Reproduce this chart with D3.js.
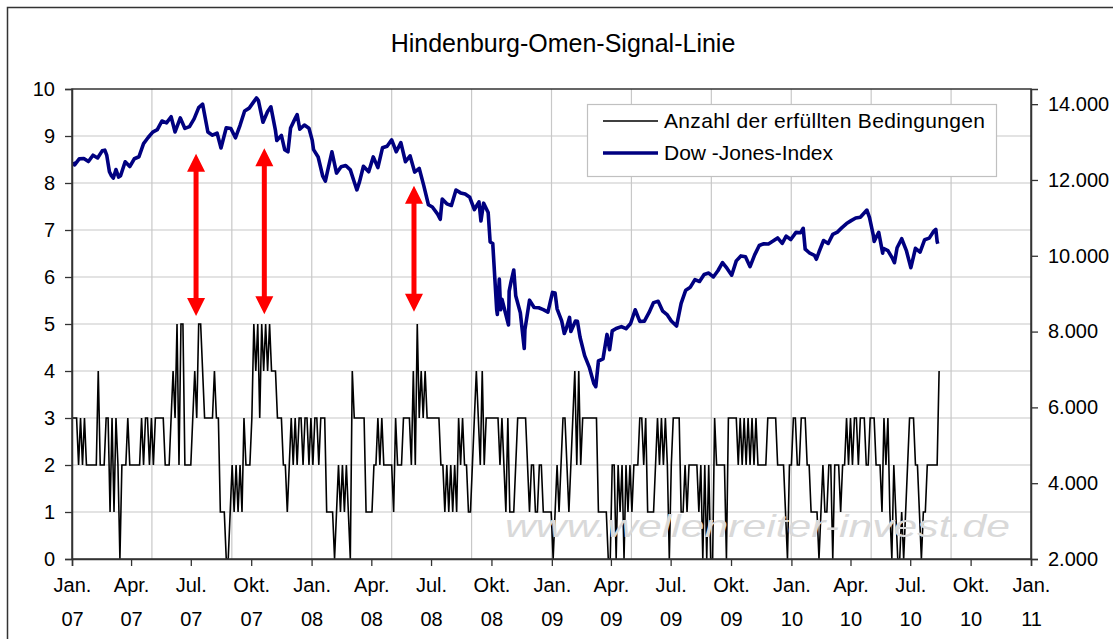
<!DOCTYPE html>
<html>
<head>
<meta charset="utf-8">
<script src="https://cdn.jsdelivr.net/npm/d3@7"></script>
<style>
  body { margin: 0; background: #fff; }
  svg { display: block; font-family: "Liberation Sans", Arial, sans-serif; }
</style>
</head>
<body>
<svg id="chart" width="1113" height="639"></svg>
<script>
// Anzahl der erfuellten Bedingungen, one digit per 3 calendar days from 2007-01-02
var signal2007 = "333 232322 2222 42 22 33 13 1 3 2 0 2 22 3 222222 323 323 23 3333 222 3 4 3 5 2 55 2 22 2 3 4 3 5 5 4 3 3333 4 33 111 00 1 2 1 2 1 2 1 3 2 22 3 5 4 5 3 5 4 5 4 5 4 44 3 33 22 1 2 3 2 3 2 33 2 3";
var signal2008 = "3232332333 1111012121 2104333333 1111223232 2222132223 3332425343 4333333322 1212121323 2211234324 2333333323 2131112333 3321221122 1111101";
var signal2009 = "2123321234 2423333333 3111110022 0212021212 2233231111 2323232023 3331121222 2212020200 3222220333 3323232323 2322222333 3322221022 33";
var signal2010 = "2233322111 1012112202 2212232323 3233322333 2221323102 1001012333 2210112222 224";
var signalStart = "2007-01-02";
var signalStep = 3; // days between digits

// Dow-Jones-Index [month-day, close]
var dow2007 = [["01-03",12474],["01-05",12398],["01-12",12556],["01-19",12565],["01-26",12487],["02-02",12653],["02-09",12580],["02-16",12768],["02-20",12786],["02-23",12647],["02-27",12216],["03-02",12114],["03-05",12050],["03-09",12276],["03-13",12075],["03-16",12110],["03-23",12481],["03-30",12354],["04-06",12560],["04-13",12612],["04-20",12961],["04-27",13120],["05-04",13264],["05-11",13327],["05-18",13556],["05-25",13507],["06-01",13668],["06-07",13266],["06-15",13639],["06-22",13360],["06-29",13408],["07-06",13611],["07-13",13908],["07-19",14000],["07-27",13265],["08-03",13182],["08-10",13239],["08-16",12845],["08-24",13378],["08-31",13358],["09-07",13113],["09-14",13442],["09-21",13820],["09-28",13896],["10-05",14066],["10-09",14165],["10-12",14093],["10-19",13522],["10-26",13806],["10-31",13930],["11-07",13300],["11-09",13042],["11-16",13177],["11-21",12800],["11-26",12744],["11-30",13372],["12-07",13625],["12-10",13727],["12-14",13339],["12-21",13450],["12-28",13366]];
var dow2008 = [["01-02",13044],["01-04",12800],["01-11",12606],["01-18",12099],["01-22",11971],["01-25",12207],["02-01",12743],["02-08",12182],["02-15",12348],["02-22",12381],["02-29",12266],["03-07",11894],["03-10",11740],["03-14",11951],["03-20",12361],["03-28",12216],["04-04",12609],["04-11",12325],["04-18",12849],["04-25",12891],["05-02",13058],["05-09",12745],["05-16",12986],["05-23",12480],["05-30",12638],["06-06",12209],["06-13",12307],["06-20",11843],["06-27",11347],["07-03",11288],["07-11",11100],["07-15",10963],["07-18",11496],["07-25",11370],["08-01",11326],["08-08",11734],["08-15",11659],["08-22",11628],["08-29",11543],["09-05",11220],["09-12",11421],["09-15",10918],["09-19",11388],["09-26",11143],["09-29",10365],["10-03",10325],["10-09",8579],["10-10",8451],["10-13",9387],["10-15",8578],["10-17",8852],["10-24",8378],["10-27",8175],["10-28",9065],["10-31",9325],["11-04",9625],["11-07",8943],["11-14",8497],["11-20",7552],["11-21",8046],["11-28",8829],["12-05",8635],["12-12",8629],["12-19",8579],["12-26",8515]];
var dow2009 = [["01-02",9034],["01-06",9015],["01-09",8600],["01-16",8281],["01-20",7949],["01-23",8077],["01-28",8375],["01-30",8001],["02-06",8280],["02-09",8270],["02-13",7850],["02-20",7366],["02-27",7063],["03-06",6627],["03-09",6547],["03-13",7224],["03-20",7279],["03-26",7925],["03-30",7522],["04-03",8018],["04-09",8083],["04-17",8131],["04-24",8076],["05-01",8212],["05-08",8575],["05-15",8268],["05-22",8277],["05-29",8500],["06-05",8764],["06-12",8799],["06-19",8539],["06-26",8438],["07-02",8280],["07-10",8146],["07-17",8743],["07-24",9093],["07-31",9172],["08-07",9370],["08-14",9321],["08-21",9506],["08-28",9544],["09-04",9441],["09-11",9605],["09-18",9820],["09-25",9665],["10-02",9488],["10-09",9865],["10-16",9996],["10-23",9972],["10-30",9713],["11-06",10023],["11-13",10270],["11-20",10318],["11-27",10310],["12-04",10388],["12-11",10471],["12-18",10329],["12-24",10520],["12-31",10428]];
var dow2010 = [["01-08",10618],["01-15",10609],["01-19",10725],["01-22",10173],["01-29",10067],["02-05",10012],["02-08",9908],["02-12",10099],["02-19",10402],["02-26",10325],["03-05",10566],["03-12",10625],["03-19",10742],["03-26",10850],["04-02",10927],["04-09",10997],["04-16",11019],["04-26",11205],["04-30",11009],["05-06",10520],["05-07",10380],["05-14",10620],["05-20",10068],["05-21",10193],["05-28",10137],["06-04",9931],["06-07",9816],["06-11",10211],["06-18",10450],["06-25",10144],["07-02",9686],["07-09",10198],["07-16",10097],["07-23",10424],["07-30",10466],["08-06",10653],["08-09",10698],["08-11",10378],["08-12",10320]];

// red arrows: date, top and bottom on the left axis
var arrowDates = ["2007-07-09", "2007-10-21", "2008-06-05"];
var arrowTop = [8.62, 8.74, 7.94];
var arrowBottom = [5.17, 5.21, 5.26];

var monthNames = {0: "Jan.", 3: "Apr.", 6: "Jul.", 9: "Okt."};

var svg = d3.select("#chart");
var margin = {top: 89, left: 72};
var width = 1031 - 72,
    height = 559 - 89;

var parse = d3.timeParse("%Y-%m-%d");
var de = d3.formatLocale({decimal: ",", thousands: ".", grouping: [3], currency: ["", " €"]});

var x = d3.scaleTime().domain([parse("2007-01-01"), parse("2011-01-01")]).range([0, width]);
var y = d3.scaleLinear().domain([0, 10]).range([height, 0]);
var y2 = d3.scaleLinear().domain([2000, 14400]).range([height, 0]);
var xGrid = d3.scaleLinear().domain([0, 12]).range([0, width]);

// build series
var signal = [];
[signal2007, signal2008, signal2009, signal2010].join("").replace(/\s/g, "").split("").forEach(function(c, i){
  signal.push({date: d3.timeDay.offset(parse(signalStart), i * signalStep), value: +c});
});
var dow = [];
[[2007, dow2007], [2008, dow2008], [2009, dow2009], [2010, dow2010]].forEach(function(yr){
  yr[1].forEach(function(d){ dow.push({date: parse(yr[0] + "-" + d[0]), value: d[1]}); });
});

// outer chart frame
svg.append("rect")
  .attr("x", 7.5).attr("y", 7.5)
  .attr("width", 1130).attr("height", 700)
  .attr("fill", "#fff").attr("stroke", "#333").attr("stroke-width", 1.5);

svg.append("text")
  .attr("x", 563).attr("y", 52)
  .attr("text-anchor", "middle")
  .style("font-size", "25px")
  .text("Hindenburg-Omen-Signal-Linie");

var g = svg.append("g").attr("transform", "translate(" + margin.left + "," + margin.top + ")");

// grid
g.append("g").selectAll("line")
  .data(d3.range(1, 10))
  .enter().append("line")
    .attr("x1", 0).attr("x2", width)
    .attr("y1", function(d){ return y(d); }).attr("y2", function(d){ return y(d); })
    .attr("stroke", "#c8c8c8").attr("stroke-width", 1.2);
g.append("g").selectAll("line")
  .data(d3.range(1, 12))
  .enter().append("line")
    .attr("x1", function(d){ return xGrid(d); }).attr("x2", function(d){ return xGrid(d); })
    .attr("y1", 0).attr("y2", height)
    .attr("stroke", "#c8c8c8").attr("stroke-width", 1.2);

// watermark
svg.append("text")
  .attr("x", 505).attr("y", 537)
  .attr("textLength", 505).attr("lengthAdjust", "spacingAndGlyphs")
  .style("font-size", "32px").style("font-style", "italic")
  .attr("fill", "#d9d9d9")
  .text("www.wellenreiter-invest.de");

// lines
g.append("path")
  .datum(signal)
  .attr("fill", "none").attr("stroke", "#000").attr("stroke-width", 1.6)
  .attr("stroke-linejoin", "miter")
  .attr("d", d3.line().x(function(d){ return x(d.date); }).y(function(d){ return y(d.value); }));

g.append("path")
  .datum(dow)
  .attr("fill", "none").attr("stroke", "#000080").attr("stroke-width", 3.6)
  .attr("stroke-linejoin", "round")
  .attr("d", d3.line().x(function(d){ return x(d.date); }).y(function(d){ return y2(d.value); }));

// arrows
var arrows = arrowDates.map(function(d, i){ return {date: parse(d), top: arrowTop[i], bottom: arrowBottom[i]}; });
var ag = g.append("g").selectAll("g").data(arrows).enter().append("g");
ag.append("line")
  .attr("x1", function(d){ return x(d.date); }).attr("x2", function(d){ return x(d.date); })
  .attr("y1", function(d){ return y(d.top) + 14; }).attr("y2", function(d){ return y(d.bottom) - 14; })
  .attr("stroke", "#ff0000").attr("stroke-width", 5);
ag.append("path")
  .attr("fill", "#ff0000")
  .attr("d", function(d){
    var cx = x(d.date), t = y(d.top), b = y(d.bottom);
    return "M" + cx + "," + t + "L" + (cx + 9) + "," + (t + 18) + "L" + (cx - 9) + "," + (t + 18) + "Z" +
           "M" + cx + "," + b + "L" + (cx + 9) + "," + (b - 18) + "L" + (cx - 9) + "," + (b - 18) + "Z";
  });

// plot border
g.append("rect")
  .attr("width", width).attr("height", height)
  .attr("fill", "none").attr("stroke", "#333").attr("stroke-width", 1.5);

// axes
var yAxis = g.append("g")
  .call(d3.axisLeft(y).ticks(10).tickSize(7).tickPadding(10));
var y2Axis = g.append("g")
  .attr("transform", "translate(" + width + ",0)")
  .call(d3.axisRight(y2).tickValues(d3.range(2000, 14001, 2000)).tickSize(7).tickPadding(10).tickFormat(de.format(",")));
var xAxis = g.append("g")
  .attr("transform", "translate(0," + height + ")")
  .call(d3.axisBottom(x).ticks(d3.timeMonth.every(3)).tickSize(7).tickFormat(""));

[yAxis, y2Axis, xAxis].forEach(function(a){
  a.select(".domain").attr("stroke", "#333").attr("stroke-width", 1.5);
  a.selectAll(".tick line").attr("stroke", "#333").attr("stroke-width", 1.3);
  a.selectAll("text").style("font-size", "20px").style("font-family", "Liberation Sans, Arial, sans-serif").attr("fill", "#000");
});

xAxis.selectAll(".tick").each(function(d){
  var t = d3.select(this).append("text")
    .attr("text-anchor", "middle").attr("fill", "#000")
    .style("font-size", "20px").style("font-family", "Liberation Sans, Arial, sans-serif");
  t.append("tspan").attr("x", 0).attr("y", 33).text(monthNames[d.getMonth()]);
  t.append("tspan").attr("x", 0).attr("y", 67).text(d3.timeFormat("%y")(d));
});

// legend
var legend = svg.append("g");
legend.append("rect")
  .attr("x", 587.5).attr("y", 104.5).attr("width", 409).attr("height", 72)
  .attr("fill", "#fff").attr("stroke", "#c0c0c0").attr("stroke-width", 1.2);
var legendItems = [
  {label: "Anzahl der erfüllten Bedingungen", color: "#000", w: 1.6, len: 321},
  {label: "Dow -Jones-Index", color: "#000080", w: 3.6, len: 169}
];
legendItems.forEach(function(d, i){
  var ly = 121 + i * 32;
  legend.append("line")
    .attr("x1", 603).attr("x2", 658).attr("y1", ly).attr("y2", ly)
    .attr("stroke", d.color).attr("stroke-width", d.w);
  legend.append("text")
    .attr("x", 664).attr("y", ly + 7)
    .attr("textLength", d.len).attr("lengthAdjust", "spacing")
    .style("font-size", "21px")
    .text(d.label);
});
</script>
</body>
</html>
